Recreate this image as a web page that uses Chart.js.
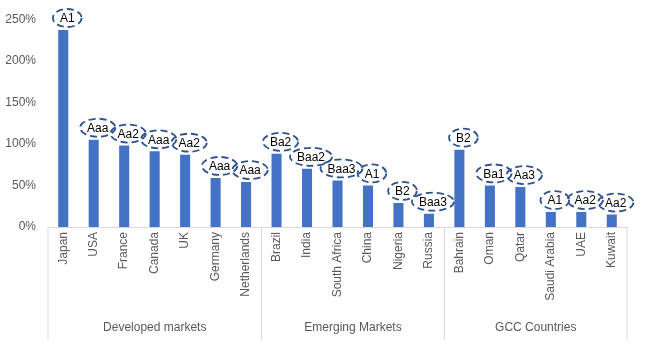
<!DOCTYPE html>
<html>
<head>
<meta charset="utf-8">
<script src="https://cdn.jsdelivr.net/npm/chart.js@4.4.0/dist/chart.umd.min.js"></script>
<style>html,body{margin:0;padding:0;background:#fff}</style>
</head>
<body>
<canvas id="myChart" width="647" height="347"></canvas>
<script>
// debt ratio by country, with credit rating labels
const countries = ['Japan','USA','France','Canada','UK','Germany','Netherlands',
  'Brazil','India','South Africa','China','Nigeria','Russia',
  'Bahrain','Oman','Qatar','Saudi Arabia','UAE','Kuwait']
const ratios = [237,105,98,91,87,59,54, 88,70,56,50,29,16, 93,50,48,18,18,15]
const ratings = ['A1','Aaa','Aa2','Aaa','Aa2','Aaa','Aaa',
  'Ba2','Baa2','Baa3','A1','B2','Baa3',
  'B2','Ba1','Aa3','A1','Aa2','Aa2']
const groups = ['Developed markets','Emerging Markets','GCC Countries']
const groupSizes = [7,6,6]
const yTicks = [0,50,100,150,200,250]

const FONT = '"Liberation Sans", Arial, sans-serif'
const GREY = '#595959'

// ellipses with ratings + the group row under the axis
const extras = {
  id: 'extras',
  afterDatasetsDraw(chart) {
    const ctx = chart.ctx
    const meta = chart.getDatasetMeta(0)
    ctx.save()
    ctx.font = '12px ' + FONT
    ctx.textAlign = 'center'
    ctx.textBaseline = 'middle'
    meta.data.forEach((bar, i) => {
      let cx = bar.x + 4
      let cy = bar.y - 12
      let w = ctx.measureText(ratings[i]).width
      ctx.beginPath()
      ctx.ellipse(cx, cy, w / 2 + 7, 9, 0, 0, Math.PI * 2)
      ctx.setLineDash([7, 4])
      ctx.lineWidth = 1.8
      ctx.strokeStyle = '#2F528F'
      ctx.stroke()
      ctx.fillStyle = '#000'
      ctx.fillText(ratings[i], cx, cy + 1)
    })
    ctx.restore()
  },
  afterDraw(chart) {
    const ctx = chart.ctx
    const x = chart.scales.x
    const area = chart.chartArea
    ctx.save()
    ctx.strokeStyle = '#D9D9D9'
    ctx.lineWidth = 1
    let bounds = [area.left]
    let idx = 0
    groupSizes.forEach(n => {
      idx += n
      if (idx < countries.length) {
        bounds.push(Math.round((x.getPixelForValue(idx - 1) + x.getPixelForValue(idx)) / 2) + 0.5)
      } else {
        bounds.push(area.right)
      }
    })
    bounds.forEach(b => {
      ctx.beginPath()
      ctx.moveTo(b, area.bottom)
      ctx.lineTo(b, 340)
      ctx.stroke()
    })
    ctx.font = '12px ' + FONT
    ctx.fillStyle = GREY
    ctx.textAlign = 'center'
    ctx.textBaseline = 'middle'
    groups.forEach((g, i) => {
      ctx.fillText(g, (bounds[i] + bounds[i + 1]) / 2, 328)
    })
    ctx.restore()
  }
}

new Chart(document.getElementById('myChart').getContext('2d'), {
  type: 'bar',
  data: {
    labels: countries,
    datasets: [{
      data: ratios,
      backgroundColor: '#4472C4',
      barPercentage: 0.33,
      categoryPercentage: 1
    }]
  },
  options: {
    responsive: false,
    animation: false,
    layout: { padding: { top: 18, right: 20, left: 0, bottom: 0 } },
    plugins: { legend: { display: false }, tooltip: { enabled: false } },
    scales: {
      x: {
        grid: { display: false, drawTicks: false },
        border: { display: true, color: '#D9D9D9' },
        ticks: {
          font: { family: FONT, size: 12 },
          color: GREY,
          minRotation: 90,
          maxRotation: 90,
          autoSkip: false,
          padding: 5
        },
        afterFit(scale) { scale.height = 120 }
      },
      y: {
        min: 0,
        max: 250,
        grid: { display: false, drawTicks: false },
        border: { display: false },
        afterBuildTicks(scale) { scale.ticks = yTicks.map(v => ({ value: v })) },
        ticks: {
          font: { family: FONT, size: 12 },
          color: GREY,
          padding: 12,
          callback: v => v + '%'
        },
        afterFit(scale) { scale.width = 48 }
      }
    }
  },
  plugins: [extras]
})
</script>
</body>
</html>
